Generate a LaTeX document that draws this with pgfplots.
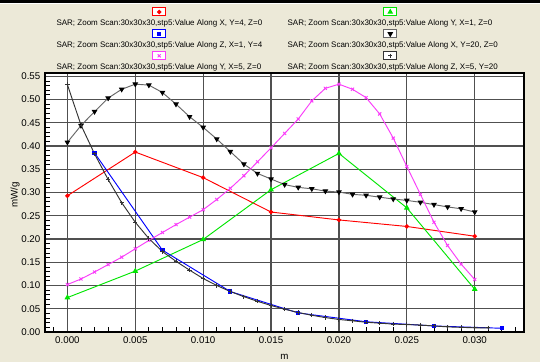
\documentclass[border=0pt]{standalone}
\usepackage{fontspec}
\setmainfont{Liberation Sans}
\usepackage{pgfplots}
\usepackage{pgfplotstable}
\pgfplotsset{compat=1.18}
\definecolor{winbg}{RGB}{236,233,216}
\definecolor{gridc}{RGB}{80,80,80}
\definecolor{sgreen}{RGB}{0,230,0}
\definecolor{smag}{RGB}{250,60,250}

\pgfplotstableread{
x y
0.000 0.293
0.005 0.387
0.010 0.332
0.015 0.258
0.020 0.241
0.025 0.227
0.030 0.206
}\redtab

\pgfplotstableread{
x y
0.000 0.074
0.005 0.131
0.010 0.199
0.015 0.306
0.020 0.384
0.025 0.267
0.030 0.092
}\greentab

\pgfplotstableread{
x y
0.002 0.385
0.007 0.176
0.012 0.087
0.017 0.041
0.022 0.022
0.027 0.013
0.032 0.008
}\bluetab

\pgfplotstableread{
x y
0.000 0.408
0.001 0.444
0.002 0.474
0.003 0.503
0.004 0.522
0.005 0.533
0.006 0.531
0.007 0.515
0.008 0.490
0.009 0.463
0.010 0.440
0.011 0.415
0.012 0.388
0.013 0.361
0.014 0.341
0.015 0.329
0.016 0.317
0.017 0.311
0.018 0.308
0.019 0.303
0.020 0.301
0.021 0.296
0.022 0.294
0.023 0.290
0.024 0.286
0.025 0.283
0.026 0.279
0.027 0.274
0.028 0.269
0.029 0.265
0.030 0.258
}\blacktab

\pgfplotstableread{
x y
0.000 0.102
0.001 0.114
0.002 0.129
0.003 0.145
0.004 0.161
0.005 0.179
0.006 0.197
0.007 0.214
0.008 0.231
0.009 0.247
0.010 0.263
0.011 0.285
0.012 0.309
0.013 0.336
0.014 0.366
0.015 0.396
0.016 0.427
0.017 0.458
0.018 0.497
0.019 0.524
0.020 0.533
0.021 0.522
0.022 0.504
0.023 0.469
0.024 0.417
0.025 0.356
0.026 0.296
0.027 0.236
0.028 0.186
0.029 0.146
0.030 0.113
}\magtab

\pgfplotstableread{
x y
0.000 0.532
0.001 0.445
0.002 0.383
0.003 0.328
0.004 0.278
0.005 0.236
0.006 0.201
0.007 0.173
0.008 0.152
0.009 0.133
0.010 0.115
0.011 0.100
0.012 0.087
0.013 0.076
0.014 0.066
0.015 0.057
0.016 0.049
0.017 0.042
0.018 0.036
0.019 0.031
0.020 0.027
0.021 0.024
0.022 0.021
0.023 0.019
0.024 0.017
0.025 0.016
0.026 0.015
0.027 0.013
0.028 0.011
0.029 0.010
0.030 0.009
0.031 0.009
}\plustab

\pgfplotsset{
  boxlegend/.style={legend image code/.code={%
    \draw[overlay,solid,line width=0.75pt,fill=white] (74pt,5.6pt) rectangle (84pt,11.6pt);
    \draw[overlay,solid] plot coordinates {(79pt,8.6pt)};
  }},
}

\begin{document}
\begin{tikzpicture}
\fill[winbg] (0,0) rectangle (405pt,271.5pt);
\fill[black] (0,269.5pt) rectangle (405pt,271.5pt);
\fill[white] (0,268.8pt) rectangle (405pt,269.5pt);
\useasboundingbox (0,0) rectangle (405pt,271.5pt);
\begin{axis}[
  at={(33.75pt,22.5pt)}, anchor=south west,
  scale only axis, width=359.25pt, height=194.25pt,
  xmin=-0.00165, xmax=0.03363, ymin=0, ymax=0.557,
  axis background/.style={fill=white},
  axis line style={black,line width=0.9pt},
  xtick={0,0.005,0.01,0.015,0.02,0.025,0.03},
  ytick={0,0.05,0.1,0.15,0.2,0.25,0.3,0.35,0.4,0.45,0.5,0.55},
  minor xtick={-0.001,0.001,0.002,0.003,0.004,0.006,0.007,0.008,0.009,0.011,0.012,0.013,0.014,0.016,0.017,0.018,0.019,0.021,0.022,0.023,0.024,0.026,0.027,0.028,0.029,0.031,0.032,0.033},
  minor y tick num=4,
  grid=major, major grid style={gridc,line width=0.9pt},
  tick pos=left, tick align=inside,
  major tick length=0pt, minor tick length=3.75pt,
  minor tick style={black,line width=0.6pt},
  scaled ticks=false,
  /pgf/number format/assume math mode=true,
  xticklabel style={/pgf/number format/.cd,fixed,fixed zerofill,precision=3},
  yticklabel style={/pgf/number format/.cd,fixed,fixed zerofill,precision=2},
  tick label style={font=\fontsize{7.3}{8}\selectfont},
  xlabel={m}, ylabel={mW/g},
  label style={font=\fontsize{7.3}{8}\selectfont},
  xlabel style={at={(axis description cs:0.5,-0.0965)},anchor=center},
  ylabel style={at={(axis description cs:-0.0626,0.53)},anchor=center},
  legend columns=2,
  legend cell align=left,
  legend style={at={(axis description cs:0.0096,1.228)},anchor=north west,
    draw=none,fill=none,font=\fontsize{6}{7}\selectfont,
    row sep=6.6pt,
    /tikz/every even column/.append style={column sep=15pt}},
  every axis plot/.append style={line width=0.7pt, boxlegend},
]
\addplot[red, mark=*, mark size=1.3pt] table {\redtab};
\addlegendentry{SAR; Zoom Scan:30x30x30,stp5:Value Along X, Y=4, Z=0}
\addplot[sgreen, mark=triangle*, mark size=1.8pt] table {\greentab};
\addlegendentry{SAR; Zoom Scan:30x30x30,stp5:Value Along Y, X=1, Z=0}
\addplot[blue, mark=square*, mark size=1.2pt] table {\bluetab};
\addlegendentry{SAR; Zoom Scan:30x30x30,stp5:Value Along Z, X=1, Y=4}
\addplot[black!60, mark=triangle*, mark options={rotate=180,black,fill=black}, mark size=1.8pt] table {\blacktab};
\addlegendentry{SAR; Zoom Scan:30x30x30,stp5:Value Along X, Y=20, Z=0}
\addplot[smag, mark=x, mark size=1.6pt] table {\magtab};
\addlegendentry{SAR; Zoom Scan:30x30x30,stp5:Value Along Y, X=5, Z=0}
\addplot[black!80, mark=+, mark size=1.6pt] table {\plustab};
\addlegendentry{SAR; Zoom Scan:30x30x30,stp5:Value Along Z, X=5, Y=20}
\end{axis}
\end{tikzpicture}
\end{document}
